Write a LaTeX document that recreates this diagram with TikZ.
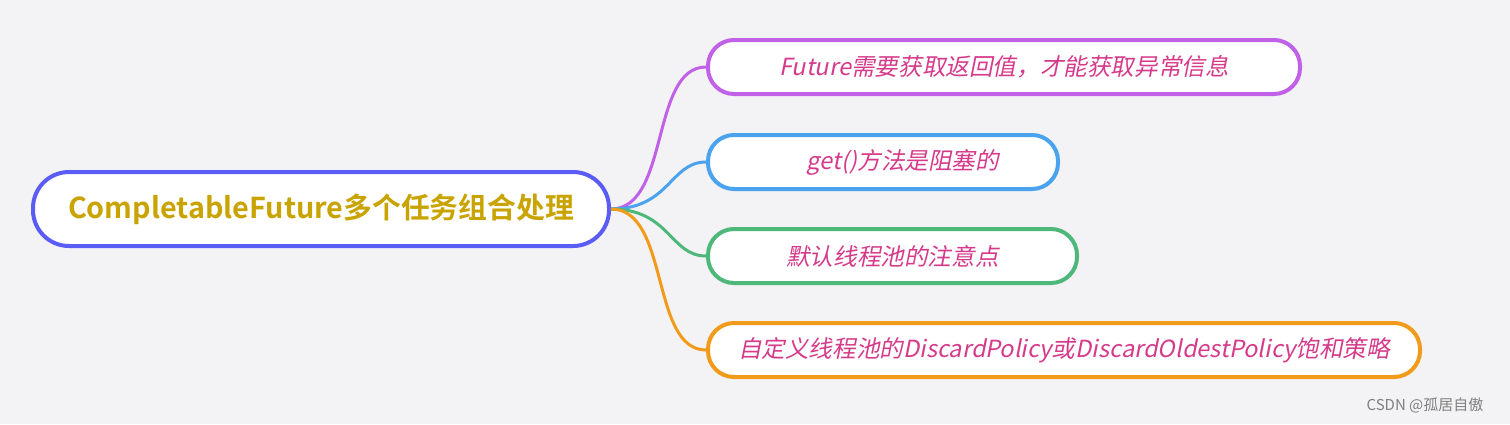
\documentclass[tikz,border=0pt]{standalone}
\usepackage{fontspec}
\newfontfamily\cjk{Noto Sans CJK SC}
\newfontfamily\cjkb{Noto Sans CJK SC Bold}
\newfontfamily\cjkit[FakeSlant=0.2]{Noto Sans CJK SC}
\definecolor{bg}{HTML}{F3F3F5}
\definecolor{rootc}{HTML}{5B5BF5}
\definecolor{gold}{HTML}{C9A400}
\definecolor{pink}{HTML}{D63A8A}
\definecolor{c1}{HTML}{C061E8}
\definecolor{c2}{HTML}{4BA3F0}
\definecolor{c3}{HTML}{4DB87A}
\definecolor{c4}{HTML}{F29B1A}
\begin{document}
\begin{tikzpicture}[x=0.5pt,y=-0.5pt,
  leaf/.style={draw=#1,line width=2pt,fill=white,rounded corners=13pt,minimum height=27pt,inner sep=0pt,font=\cjkit\fontsize{11.8}{13}\selectfont,text=pink},
  link/.style={draw=#1,line width=1.5pt}]
\fill[bg] (0,0) rectangle (1510,424);
\node[draw=rootc,line width=2pt,fill=white,rounded corners=18pt,minimum width=288pt,minimum height=37pt,font=\cjkb\fontsize{14.4}{16}\selectfont,text=gold] (root) at (321,209) {CompletableFuture多个任务组合处理};
\node[leaf=c1,minimum width=296pt] (a) at (1004,67) {Future需要获取返回值，才能获取异常信息};
\node[leaf=c2,minimum width=175pt] (b) at (883,162) {\hspace{20pt}get()方法是阻塞的};
\node[leaf=c3,minimum width=184.5pt] (c) at (892.5,256) {默认线程池的注意点};
\node[leaf=c4,minimum width=356pt] (d) at (1064,350) {自定义线程池的DiscardPolicy或DiscardOldestPolicy饱和策略};
\coordinate (o) at (root.east);
\draw[link=c1] (o) .. controls (670,209) and (650,67) .. (a.west);
\draw[link=c2] (o) .. controls (670,209) and (670,162) .. (b.west);
\draw[link=c3] (o) .. controls (670,209) and (670,256) .. (c.west);
\draw[link=c4] (o) .. controls (670,209) and (650,350) .. (d.west);
\node[font=\cjk\fontsize{7.5}{9}\selectfont,text=gray] (w) at (1425,405) {CSDN @孤居自傲};
\end{tikzpicture}
\end{document}
